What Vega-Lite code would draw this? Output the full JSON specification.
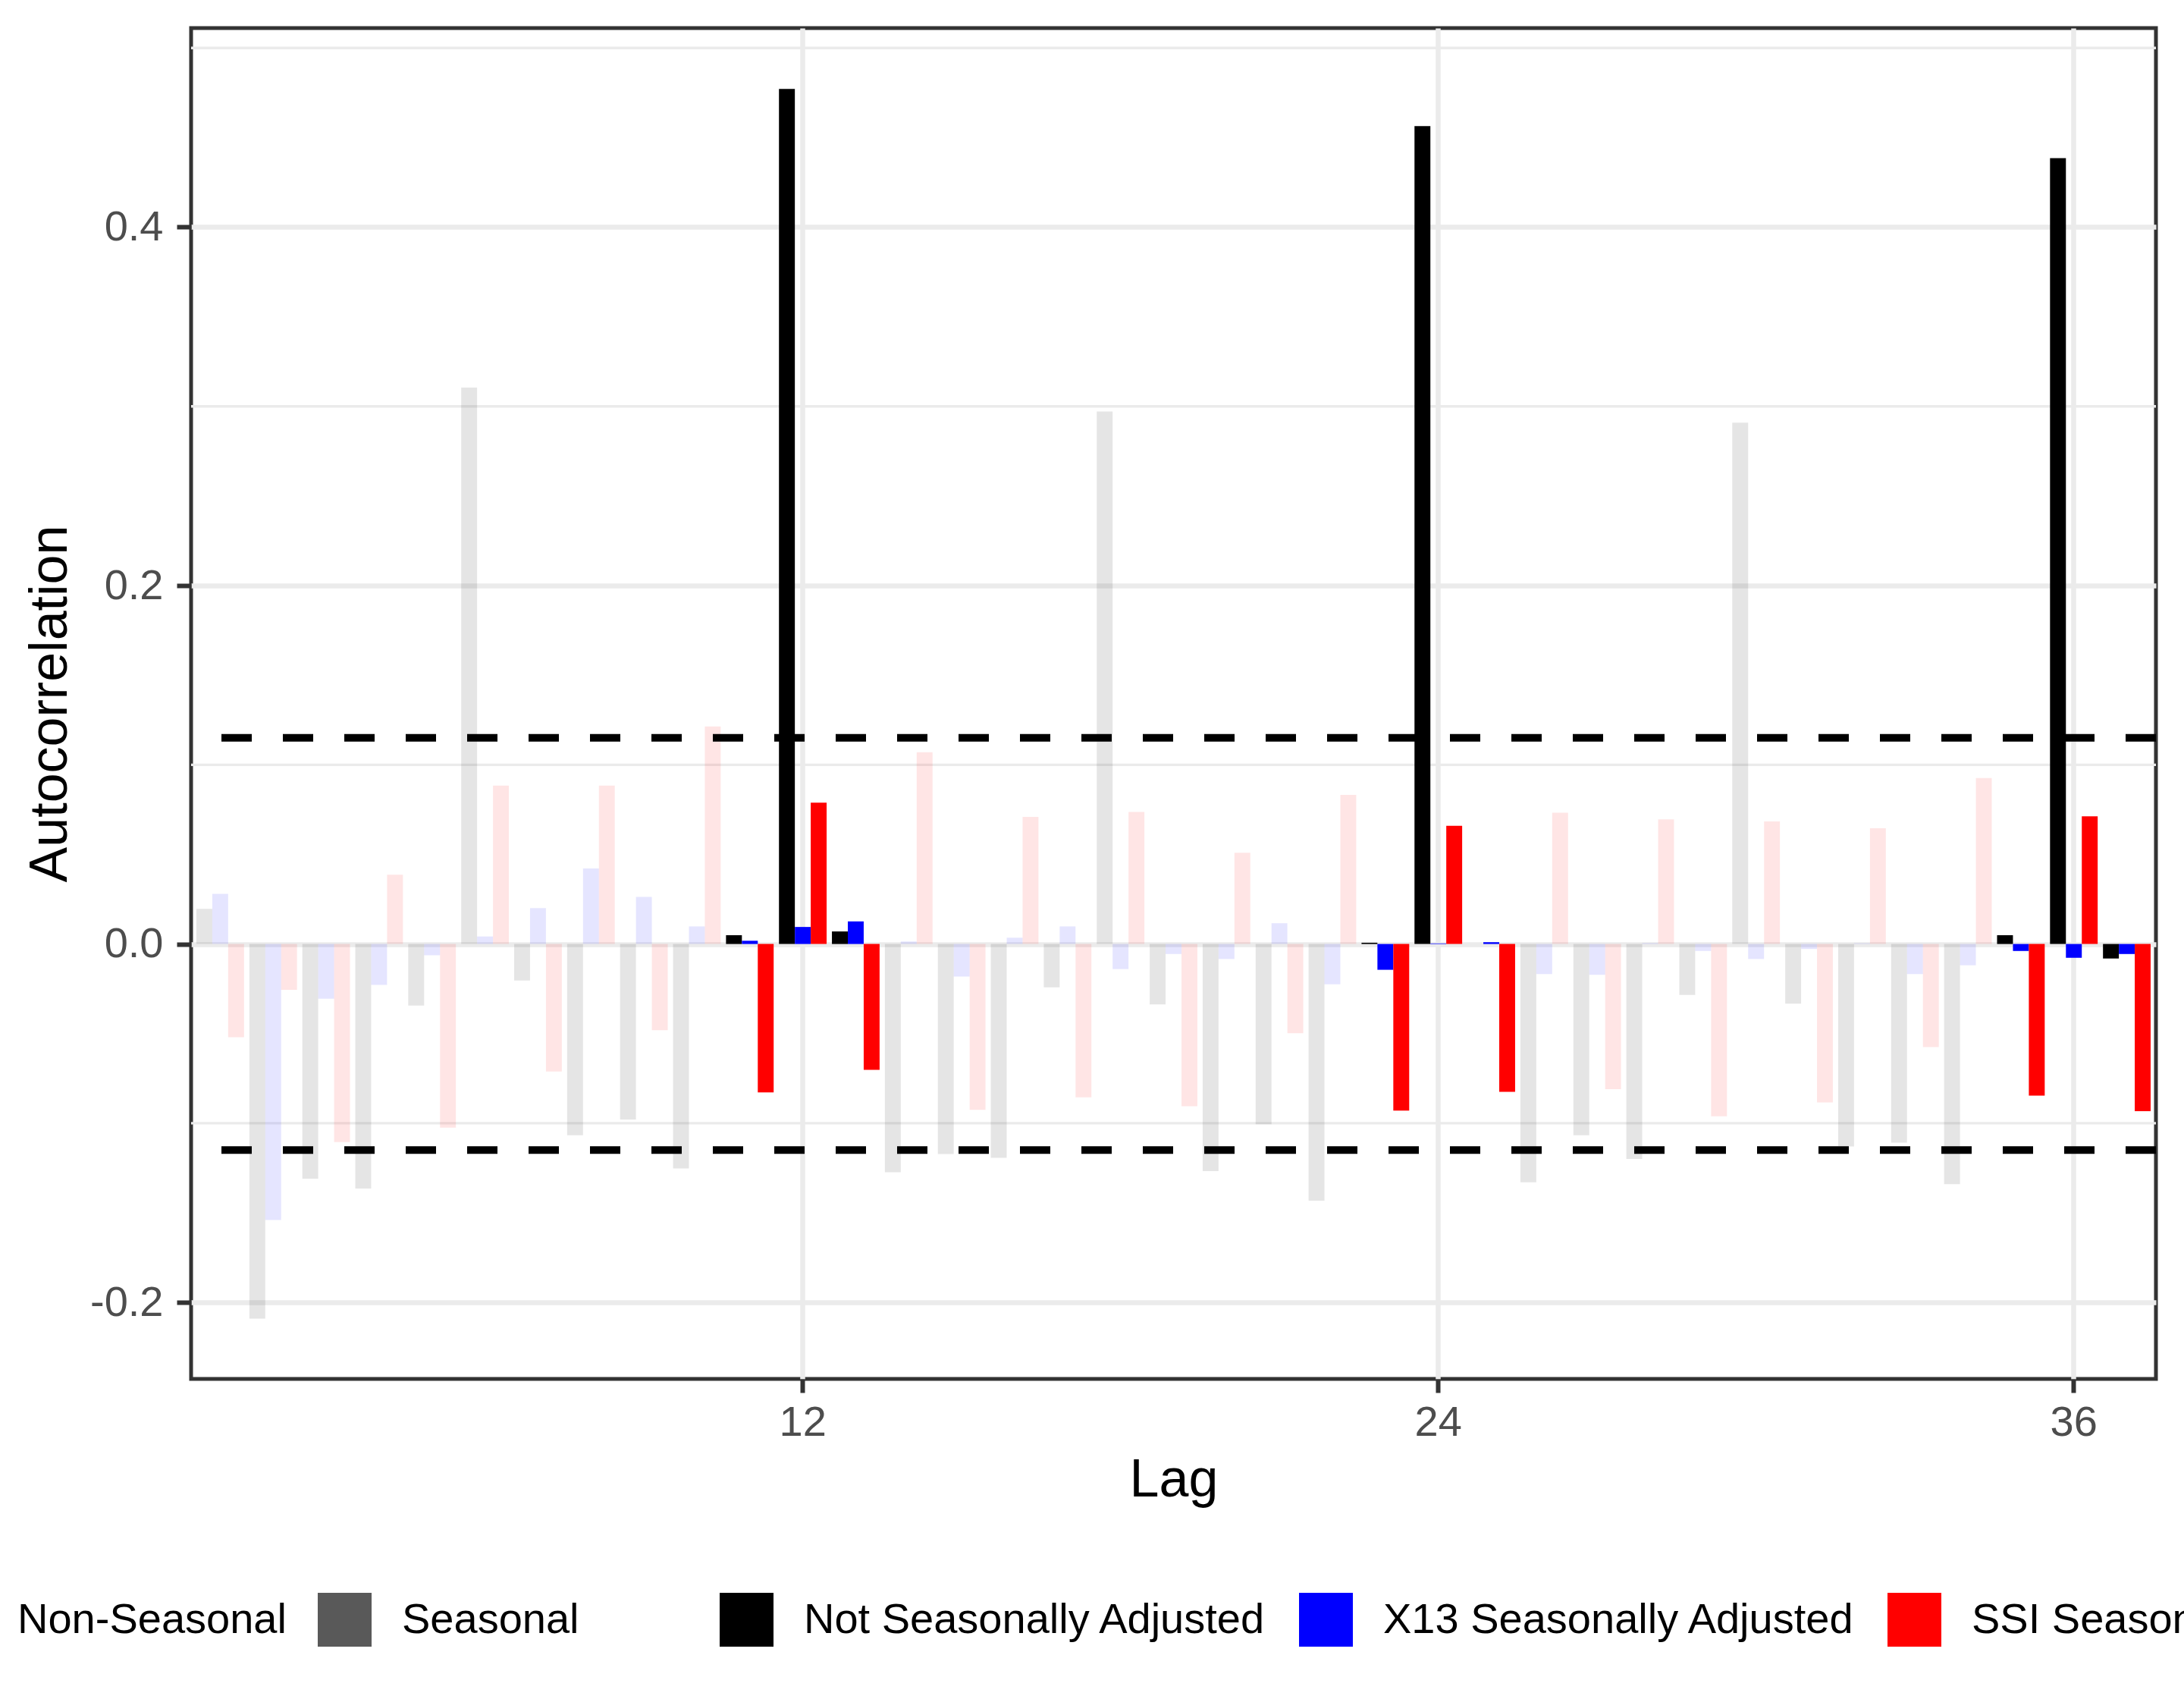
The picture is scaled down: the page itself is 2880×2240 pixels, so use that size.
{
  "$schema": "https://vega.github.io/schema/vega-lite/v6.json",
  "description": "ACF of not seasonally adjusted, X13 and SSI seasonally adjusted series",
  "width": 2591,
  "height": 1781,
  "autosize": {"type": "none"},
  "padding": {"left": 252, "top": 37, "right": 37, "bottom": 422},
  "background": "white",
  "config": {
    "font": "Liberation Sans",
    "view": {"stroke": "#333333", "strokeWidth": 5},
    "axis": {"domain": false, "titleFontWeight": "normal"}
  },
  "datasets": {
    "acf": [
      {"lag": 1, "type": "Non-Seasonal", "Not Seasonally Adjusted": 0.0196, "X13 Seasonally Adjusted": 0.028, "SSI Seasonally Adjusted": -0.052},
      {"lag": 2, "type": "Non-Seasonal", "Not Seasonally Adjusted": -0.209, "X13 Seasonally Adjusted": -0.154, "SSI Seasonally Adjusted": -0.0256},
      {"lag": 3, "type": "Non-Seasonal", "Not Seasonally Adjusted": -0.131, "X13 Seasonally Adjusted": -0.0305, "SSI Seasonally Adjusted": -0.1105},
      {"lag": 4, "type": "Non-Seasonal", "Not Seasonally Adjusted": -0.1365, "X13 Seasonally Adjusted": -0.0228, "SSI Seasonally Adjusted": 0.0386},
      {"lag": 5, "type": "Non-Seasonal", "Not Seasonally Adjusted": -0.0344, "X13 Seasonally Adjusted": -0.0063, "SSI Seasonally Adjusted": -0.1025},
      {"lag": 6, "type": "Non-Seasonal", "Not Seasonally Adjusted": 0.3105, "X13 Seasonally Adjusted": 0.0042, "SSI Seasonally Adjusted": 0.0884},
      {"lag": 7, "type": "Non-Seasonal", "Not Seasonally Adjusted": -0.0204, "X13 Seasonally Adjusted": 0.02, "SSI Seasonally Adjusted": -0.0712},
      {"lag": 8, "type": "Non-Seasonal", "Not Seasonally Adjusted": -0.1067, "X13 Seasonally Adjusted": 0.0421, "SSI Seasonally Adjusted": 0.0884},
      {"lag": 9, "type": "Non-Seasonal", "Not Seasonally Adjusted": -0.0979, "X13 Seasonally Adjusted": 0.0263, "SSI Seasonally Adjusted": -0.0481},
      {"lag": 10, "type": "Non-Seasonal", "Not Seasonally Adjusted": -0.1253, "X13 Seasonally Adjusted": 0.0098, "SSI Seasonally Adjusted": 0.1214},
      {"lag": 11, "type": "Seasonal", "Not Seasonally Adjusted": 0.0049, "X13 Seasonally Adjusted": 0.0018, "SSI Seasonally Adjusted": -0.0828},
      {"lag": 12, "type": "Seasonal", "Not Seasonally Adjusted": 0.4771, "X13 Seasonally Adjusted": 0.0095, "SSI Seasonally Adjusted": 0.0789},
      {"lag": 13, "type": "Seasonal", "Not Seasonally Adjusted": 0.007, "X13 Seasonally Adjusted": 0.0126, "SSI Seasonally Adjusted": -0.0702},
      {"lag": 14, "type": "Non-Seasonal", "Not Seasonally Adjusted": -0.1274, "X13 Seasonally Adjusted": 0.0014, "SSI Seasonally Adjusted": 0.107},
      {"lag": 15, "type": "Non-Seasonal", "Not Seasonally Adjusted": -0.1172, "X13 Seasonally Adjusted": -0.0182, "SSI Seasonally Adjusted": -0.0926},
      {"lag": 16, "type": "Non-Seasonal", "Not Seasonally Adjusted": -0.1193, "X13 Seasonally Adjusted": 0.0035, "SSI Seasonally Adjusted": 0.0709},
      {"lag": 17, "type": "Non-Seasonal", "Not Seasonally Adjusted": -0.0242, "X13 Seasonally Adjusted": 0.0098, "SSI Seasonally Adjusted": -0.0856},
      {"lag": 18, "type": "Non-Seasonal", "Not Seasonally Adjusted": 0.2972, "X13 Seasonally Adjusted": -0.014, "SSI Seasonally Adjusted": 0.0737},
      {"lag": 19, "type": "Non-Seasonal", "Not Seasonally Adjusted": -0.0337, "X13 Seasonally Adjusted": -0.0056, "SSI Seasonally Adjusted": -0.0905},
      {"lag": 20, "type": "Non-Seasonal", "Not Seasonally Adjusted": -0.1267, "X13 Seasonally Adjusted": -0.0084, "SSI Seasonally Adjusted": 0.0509},
      {"lag": 21, "type": "Non-Seasonal", "Not Seasonally Adjusted": -0.1006, "X13 Seasonally Adjusted": 0.0116, "SSI Seasonally Adjusted": -0.0498},
      {"lag": 22, "type": "Non-Seasonal", "Not Seasonally Adjusted": -0.1432, "X13 Seasonally Adjusted": -0.0225, "SSI Seasonally Adjusted": 0.0832},
      {"lag": 23, "type": "Seasonal", "Not Seasonally Adjusted": 0.0007, "X13 Seasonally Adjusted": -0.0144, "SSI Seasonally Adjusted": -0.093},
      {"lag": 24, "type": "Seasonal", "Not Seasonally Adjusted": 0.4564, "X13 Seasonally Adjusted": 0.0003, "SSI Seasonally Adjusted": 0.066},
      {"lag": 25, "type": "Seasonal", "Not Seasonally Adjusted": 0.0, "X13 Seasonally Adjusted": 0.001, "SSI Seasonally Adjusted": -0.0825},
      {"lag": 26, "type": "Non-Seasonal", "Not Seasonally Adjusted": -0.133, "X13 Seasonally Adjusted": -0.0168, "SSI Seasonally Adjusted": 0.0733},
      {"lag": 27, "type": "Non-Seasonal", "Not Seasonally Adjusted": -0.1067, "X13 Seasonally Adjusted": -0.0172, "SSI Seasonally Adjusted": -0.081},
      {"lag": 28, "type": "Non-Seasonal", "Not Seasonally Adjusted": -0.12, "X13 Seasonally Adjusted": 0.0005, "SSI Seasonally Adjusted": 0.0695},
      {"lag": 29, "type": "Non-Seasonal", "Not Seasonally Adjusted": -0.0284, "X13 Seasonally Adjusted": -0.0039, "SSI Seasonally Adjusted": -0.0961},
      {"lag": 30, "type": "Non-Seasonal", "Not Seasonally Adjusted": 0.2909, "X13 Seasonally Adjusted": -0.0084, "SSI Seasonally Adjusted": 0.0684},
      {"lag": 31, "type": "Non-Seasonal", "Not Seasonally Adjusted": -0.0333, "X13 Seasonally Adjusted": -0.0028, "SSI Seasonally Adjusted": -0.0884},
      {"lag": 32, "type": "Non-Seasonal", "Not Seasonally Adjusted": -0.113, "X13 Seasonally Adjusted": 0.0004, "SSI Seasonally Adjusted": 0.0646},
      {"lag": 33, "type": "Non-Seasonal", "Not Seasonally Adjusted": -0.1109, "X13 Seasonally Adjusted": -0.0168, "SSI Seasonally Adjusted": -0.0575},
      {"lag": 34, "type": "Non-Seasonal", "Not Seasonally Adjusted": -0.134, "X13 Seasonally Adjusted": -0.0119, "SSI Seasonally Adjusted": 0.0926},
      {"lag": 35, "type": "Seasonal", "Not Seasonally Adjusted": 0.0049, "X13 Seasonally Adjusted": -0.0039, "SSI Seasonally Adjusted": -0.0846},
      {"lag": 36, "type": "Seasonal", "Not Seasonally Adjusted": 0.4385, "X13 Seasonally Adjusted": -0.0077, "SSI Seasonally Adjusted": 0.0712},
      {"lag": 37, "type": "Seasonal", "Not Seasonally Adjusted": -0.0081, "X13 Seasonally Adjusted": -0.0056, "SSI Seasonally Adjusted": -0.0933}
    ],
    "minor": [{"y": -0.1}, {"y": 0.1}, {"y": 0.3}, {"y": 0.5}],
    "bounds": [{"y": 0.115}, {"y": -0.115}]
  },
  "layer": [
    {
      "data": {"name": "minor"},
      "mark": {"type": "rule", "color": "#ebebeb", "strokeWidth": 3.3},
      "encoding": {
        "y": {"field": "y", "type": "quantitative"}
      }
    },
    {
      "data": {"name": "acf"},
      "transform": [
        {
          "fold": ["Not Seasonally Adjusted", "X13 Seasonally Adjusted", "SSI Seasonally Adjusted"],
          "as": ["series", "acf"]
        }
      ],
      "mark": {"type": "bar"},
      "encoding": {
        "x": {
          "field": "lag",
          "type": "ordinal",
          "scale": {"paddingInner": 0.1, "paddingOuter": 0.1},
          "axis": {
            "values": [12, 24, 36],
            "title": "Lag",
            "titleFontSize": 70,
            "titleColor": "black",
            "titleBaseline": "alphabetic",
            "titleY": 154,
            "labelAngle": 0,
            "labelFontSize": 56,
            "labelColor": "#4d4d4d",
            "labelBaseline": "top",
            "labelPadding": 12,
            "tickSize": 18,
            "tickWidth": 6,
            "tickColor": "#333333",
            "grid": true,
            "gridColor": "#ebebeb",
            "gridWidth": 6.5,
            "bandPosition": 0.5
          }
        },
        "xOffset": {
          "field": "series",
          "type": "nominal",
          "sort": ["Not Seasonally Adjusted", "X13 Seasonally Adjusted", "SSI Seasonally Adjusted"],
          "scale": {"paddingInner": 0, "paddingOuter": 0}
        },
        "y": {
          "field": "acf",
          "type": "quantitative",
          "scale": {"domain": [-0.2427, 0.5111], "nice": false},
          "axis": {
            "values": [-0.2, 0, 0.2, 0.4],
            "labelExpr": "replace(format(datum.value, '.1f'), '\u2212', '-')",
            "title": "Autocorrelation",
            "titleFontSize": 70,
            "titleColor": "black",
            "titleAngle": -90,
            "titleBaseline": "alphabetic",
            "titleAlign": "center",
            "titleX": -165,
            "titleY": 890.5,
            "labelFontSize": 56,
            "labelColor": "#4d4d4d",
            "labelPadding": 18,
            "tickSize": 19,
            "tickWidth": 6,
            "tickColor": "#333333",
            "grid": true,
            "gridColor": "#ebebeb",
            "gridWidth": 6.5
          }
        },
        "color": {
          "field": "series",
          "type": "nominal",
          "scale": {
            "domain": ["Not Seasonally Adjusted", "X13 Seasonally Adjusted", "SSI Seasonally Adjusted"],
            "range": ["#000000", "#0000ff", "#ff0000"]
          },
          "legend": {
            "orient": "none",
            "legendX": 697,
            "legendY": 2063,
            "direction": "horizontal",
            "title": null,
            "padding": 0,
            "labelFontSize": 56,
            "labelColor": "black",
            "labelOffset": 40,
            "labelLimit": 2000,
            "columnPadding": 42,
            "symbolType": "square",
            "symbolSize": 5041,
            "symbolStrokeWidth": 0,
            "symbolOpacity": 1,
            "encode": {"symbols": {"update": {"opacity": {"value": 1}, "strokeWidth": {"value": 0}}}}
          }
        },
        "opacity": {
          "field": "type",
          "type": "ordinal",
          "scale": {"domain": ["Non-Seasonal", "Seasonal"], "range": [0.1, 1]},
          "legend": {
            "orient": "none",
            "legendX": -340,
            "legendY": 2063,
            "direction": "horizontal",
            "title": null,
            "padding": 0,
            "labelFontSize": 56,
            "labelColor": "black",
            "labelOffset": 40,
            "labelLimit": 2000,
            "columnPadding": 41,
            "symbolType": "square",
            "symbolSize": 5041,
            "symbolStrokeWidth": 0,
            "symbolFillColor": "#595959",
            "encode": {"symbols": {"update": {"fill": {"value": "#595959"}, "strokeWidth": {"value": 0}}}}
          }
        }
      }
    },
    {
      "data": {"name": "bounds"},
      "mark": {"type": "rule", "color": "black", "strokeWidth": 10, "strokeDash": [40, 41]},
      "encoding": {
        "y": {"field": "y", "type": "quantitative"}
      }
    }
  ]
}
